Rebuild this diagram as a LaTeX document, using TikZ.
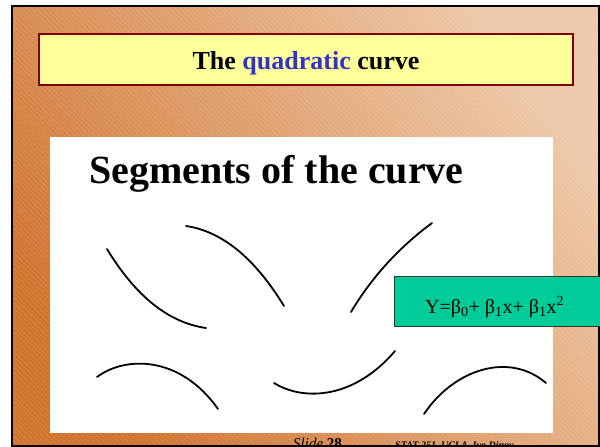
\documentclass[tikz,border=0pt]{standalone}
\usepackage{fontspec}
\setmainfont{Liberation Serif}
\usetikzlibrary{patterns.meta}
\definecolor{bgdark}{HTML}{D0732E}
\definecolor{bglight}{HTML}{EEC8A8}
\definecolor{titlefill}{HTML}{FFFF99}
\definecolor{titleedge}{HTML}{800000}
\definecolor{eqfill}{HTML}{00CC99}
\definecolor{qblue}{HTML}{3333CC}
\tikzset{
  curveseg/.style={line width=1.8pt, line cap=round},
  titlebox/.style={draw=titleedge, line width=2.5pt, fill=titlefill},
  eqbox/.style={draw=black!80, line width=0.8pt, fill=eqfill}
}
\begin{document}
\begin{tikzpicture}[x=1pt,y=-1pt]
\useasboundingbox (0,0) rectangle (600,447);
\fill[white] (0,0) rectangle (600,447);
% background
\shade[top color=bglight, bottom color=bgdark, shading angle=-55] (12,6) rectangle (600,447);
\fill[pattern={Lines[angle=-45,distance=3.5pt,line width=0.6pt]}, pattern color=white, opacity=0.15] (12,6) rectangle (600,447);
\draw[line width=2pt] (12,6) rectangle (599,446);
% title
\node[titlebox, minimum width=534pt, minimum height=51pt, inner sep=0pt] (title) at (306,59.5) {};
\node[anchor=base, inner sep=0pt, font=\fontsize{26}{30}\selectfont\bfseries] (titletext) at (306,69) {The \textcolor{qblue}{quadratic} curve};
% white panel
\fill[white] (50,137) rectangle (553,433);
\node[anchor=base west, inner sep=0pt, font=\fontsize{40}{46}\selectfont\bfseries] (seg) at (89,183) {Segments of the curve};
% curves
\draw[curveseg] (107,249) .. controls (135.7,296.3) and (168.7,322.7) .. (206,328);
\draw[curveseg] (186,226) .. controls (222,231.3) and (254.7,258) .. (284,306);
\draw[curveseg] (351,312) .. controls (371.7,277.3) and (398.7,247.7) .. (432,223);
\draw[curveseg] (97,377) .. controls (125,356) and (180,355) .. (218,409);
\draw[curveseg] (274,383) .. controls (305,402) and (355,398) .. (395,351);
\draw[curveseg] (424,414) .. controls (455,368) and (510,352) .. (546,383);
% equation box
\draw[eqbox] (394,276) rectangle (600,326);
\node[anchor=base west, inner sep=0pt, font=\fontsize{20}{24}\selectfont] (eq) at (425,313) {Y=β\textsubscript{0}+ β\textsubscript{1}x+ β\textsubscript{1}x\textsuperscript{2}};
% footer
\node[anchor=base west, inner sep=0pt, font=\fontsize{15}{18}\selectfont] (slide) at (293,448) {\textit{Slide} \textbf{28}};
\node[anchor=base west, inner sep=0pt, font=\fontsize{10}{12}\selectfont\bfseries\itshape] (stat) at (395,448) {STAT 251, UCLA, Ivo Dinov};
\end{tikzpicture}
\end{document}
